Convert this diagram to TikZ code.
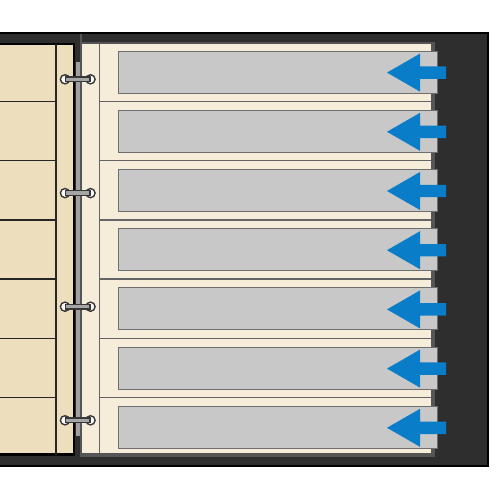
\documentclass[tikz,border=0pt]{standalone}
\definecolor{bgdark}{RGB}{46,46,46}
\definecolor{tanpage}{RGB}{237,222,190}
\definecolor{beigepage}{RGB}{246,236,218}
\definecolor{pagegrey}{RGB}{85,85,85}
\definecolor{linegrey}{RGB}{100,100,100}
\definecolor{slotgrey}{RGB}{200,200,200}
\definecolor{slotedge}{RGB}{110,110,110}
\definecolor{spinegrey}{RGB}{160,160,160}
\definecolor{arrowblue}{RGB}{10,125,200}
\definecolor{ringedge}{RGB}{55,55,55}
\definecolor{ringbar}{RGB}{165,165,165}
\tikzset{
  frame/.style={fill=bgdark, draw=black, line width=0.6pt},
  leftpage/.style={fill=tanpage, draw=black, line width=1.3pt},
  leftline/.style={draw=black!85, line width=0.9pt},
  rightline/.style={draw=linegrey, line width=0.8pt},
  slotbox/.style={fill=slotgrey, draw=slotedge, line width=0.55pt},
  bluearrow/.style={fill=arrowblue},
  ringhole/.style={fill=white, draw=ringedge, line width=0.8pt},
  ringrod/.style={fill=ringbar, draw=ringedge, line width=0.6pt}
}
\begin{document}
\begin{tikzpicture}[x=0.02cm,y=-0.02cm]
\useasboundingbox (0,0) rectangle (500,500);
\fill[white] (0,0) rectangle (500,500);
% dark frame
\filldraw[frame] (-3,33) rectangle (488,466);
% left page
\filldraw[leftpage] (-5,44) rectangle (73.8,454.5);
\draw[leftline] (56,44) -- (56,454.5);
\foreach \i in {0,...,5}{
  \pgfmathsetmacro{\ys}{101.5+59.2*\i}
  \draw[leftline] (-5,\ys) -- (56,\ys);
}
% spine strip
\fill[spinegrey] (75.8,62) rectangle (80.5,435.5);
% right page shadow and page
\fill[pagegrey] (80.3,34) rectangle (82.3,456);
\fill[pagegrey] (80.3,42) rectangle (435,456.5);
\fill[beigepage] (82.3,43.8) rectangle (431,453);
\draw[rightline] (99.3,43.8) -- (99.3,453);
\foreach \i in {0,...,5}{
  \pgfmathsetmacro{\ys}{101.5+59.2*\i}
  \draw[rightline] (99.3,\ys) -- (431,\ys);
}
% slots and arrows
\foreach \i in {0,...,6}{
  \pgfmathsetmacro{\yt}{51+59.2*\i}
  \pgfmathsetmacro{\yb}{93+59.2*\i}
  \pgfmathsetmacro{\yc}{72.6+59.2*\i}
  \filldraw[slotbox] (118.3,\yt) rectangle (437,\yb);
  \fill[bluearrow] (446,\yc-6.2) -- (420,\yc-6.2) -- (420,\yc-19) -- (387,\yc)
     -- (420,\yc+19) -- (420,\yc+6.2) -- (446,\yc+6.2) -- cycle;
}
% rings
\foreach \y in {79.3,193.1,306.7,420.3}{
  \filldraw[ringhole] (65,\y) circle (0.092cm);
  \filldraw[ringhole] (90.5,\y) circle (0.092cm);
  \filldraw[ringrod] (65.5,\y-2.3) rectangle (90,\y+2.3);
}
\end{tikzpicture}
\end{document}
